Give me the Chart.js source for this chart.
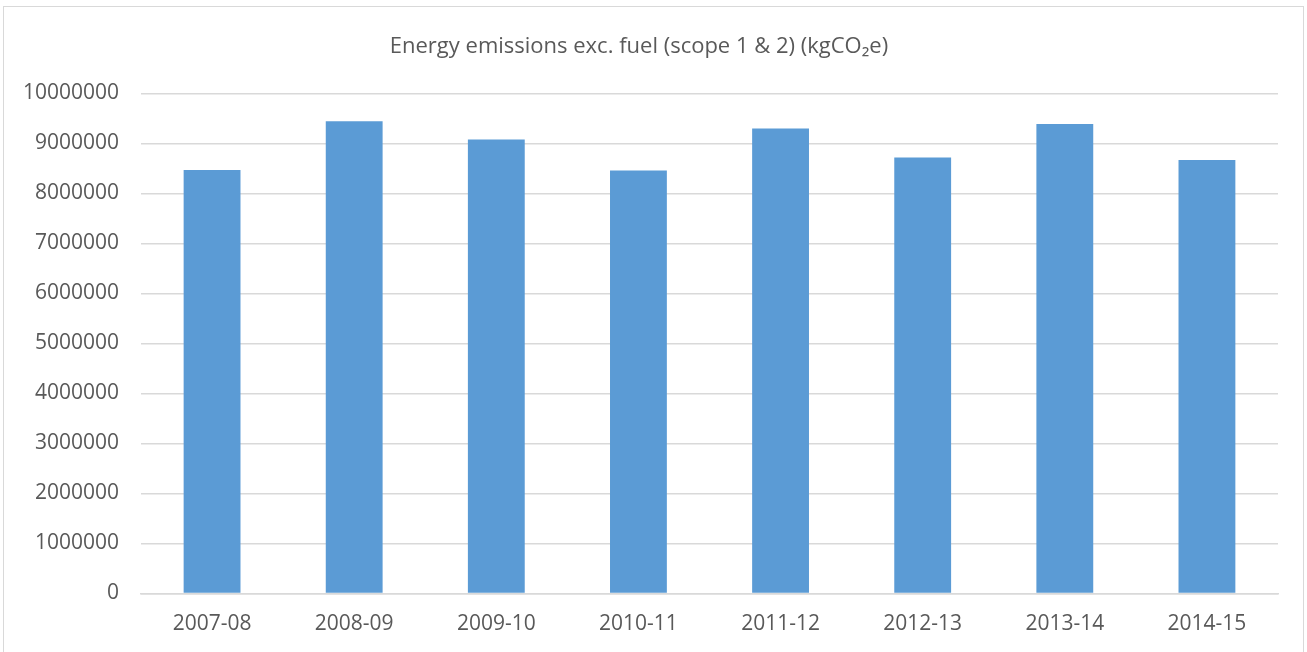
<!DOCTYPE html>
<html>
<head>
<meta charset="utf-8">
<script src="https://cdn.jsdelivr.net/npm/chart.js@4"></script>
<style>
  body { margin: 0; background: #fff; }
  #wrap { position: relative; width: 1307px; height: 652px; }
  #frame { position: absolute; left: 3px; top: 6px; width: 1301px; height: 660px; border: 1.5px solid #d9d9d9; box-sizing: border-box; pointer-events: none; }
</style>
</head>
<body>
<div id="wrap">
  <canvas id="emissionsChart" width="1307" height="652"></canvas>
  <div id="frame"></div>
</div>
<script>
// Years on the x-axis
const years = ['2007-08', '2008-09', '2009-10', '2010-11', '2011-12', '2012-13', '2013-14', '2014-15'];
// Emissions in kgCO2e
const emissions = [8470000, 9445000, 9080000, 8460000, 9300000, 8720000, 9390000, 8670000];
// Y-axis range and step
const yMin = 0;
const yMax = 10000000;
const yStep = 1000000;

const textColor = '#595959';
const gridColor = '#d9d9d9';
const fontFamily = "'Open Sans', 'Liberation Sans', sans-serif";

const ctx = document.getElementById('emissionsChart').getContext('2d');

new Chart(ctx, {
    type: 'bar',
    data: {
        labels: years,
        datasets: [{
            label: 'Emissions',
            data: emissions,
            backgroundColor: '#5b9bd5',
            barPercentage: 0.4,
            categoryPercentage: 1.0
        }]
    },
    options: {
        responsive: false,
        animation: false,
        layout: { padding: { left: 0, right: 29, top: 0, bottom: 0 } },
        plugins: {
            legend: { display: false },
            tooltip: { enabled: false },
            title: {
                display: true,
                text: 'Energy emissions exc. fuel (scope 1 & 2) (kgCO\u2082e)',
                color: textColor,
                font: { family: fontFamily, size: 22, weight: 'normal', lineHeight: 1.2 },
                padding: { top: 34, bottom: 33 }
            }
        },
        scales: {
            x: {
                grid: { display: false, drawTicks: false },
                border: { display: true, color: gridColor, width: 1.5 },
                ticks: { color: textColor, font: { family: fontFamily, size: 21 }, padding: 18 },
                afterFit: s => { s.height = 58.5; }
            },
            y: {
                min: yMin,
                max: yMax,
                grid: { color: gridColor, lineWidth: 1.5, drawTicks: false },
                border: { display: false },
                ticks: {
                    stepSize: yStep,
                    color: textColor,
                    font: { family: fontFamily, size: 21 },
                    padding: 22,
                    callback: v => String(v)  // plain numbers, no thousands separators
                },
                afterFit: s => { s.width = 141; }
            }
        }
    }
});
</script>
</body>
</html>
